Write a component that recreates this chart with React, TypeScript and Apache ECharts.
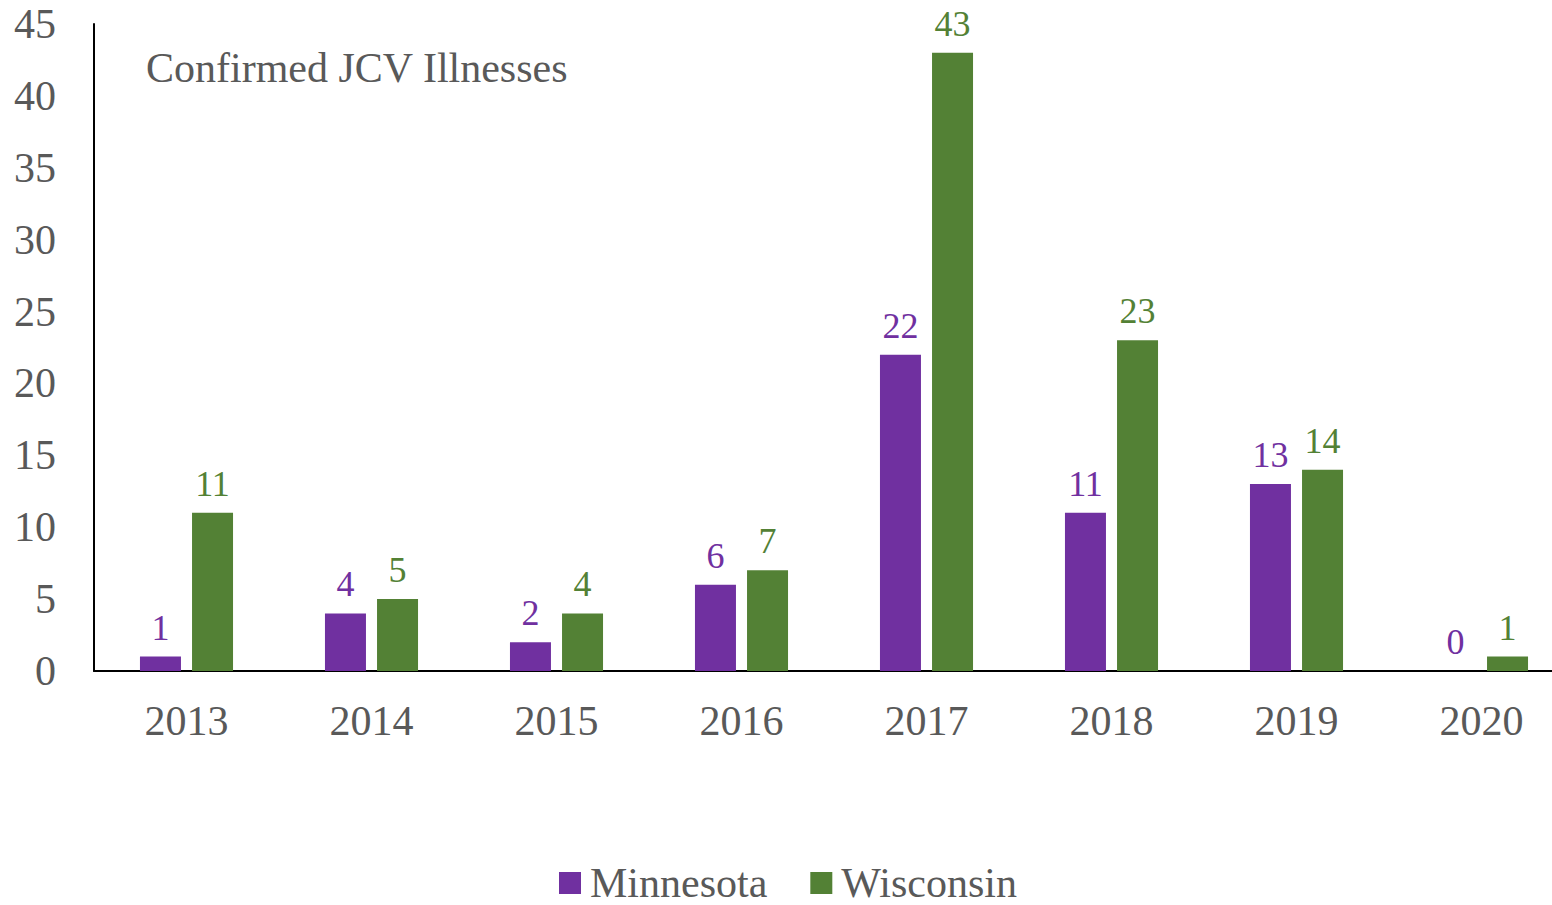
import React, { useEffect, useRef } from "react";
import * as echarts from "echarts";

const years = ["2013", "2014", "2015", "2016", "2017", "2018", "2019", "2020"];
const minnesota = [1, 4, 2, 6, 22, 11, 13, 0];
const wisconsin = [11, 5, 4, 7, 43, 23, 14, 1];
const titleText = "Confirmed JCV Illnesses";

const FONT = "'Liberation Serif', 'Times New Roman', serif";
const PURPLE = "#7030A0";
const GREEN = "#538135";
const GRAY = "#595959";

export default function App() {
  const ref = useRef<HTMLDivElement>(null);
  useEffect(() => {
    if (!ref.current) return;
    const chart = echarts.init(ref.current, null, { renderer: "svg" });
    chart.setOption({
      animation: false,
      textStyle: { fontFamily: FONT },
      title: {
        text: titleText,
        left: 146,
        top: 47,
        padding: 0,
        textStyle: { fontFamily: FONT, fontSize: 42, fontWeight: "normal", color: GRAY },
      },
      legend: {
        left: 559,
        top: 862,
        itemWidth: 22,
        itemHeight: 22,
        itemGap: 43,
        icon: "rect",
        padding: 0,
        textStyle: { fontFamily: FONT, fontSize: 42, lineHeight: 34, color: GRAY, padding: [0, 0, 0, 4] },
        data: ["Minnesota", "Wisconsin"],
      },
      grid: { left: 94, right: 0, top: 24, bottom: 234, containLabel: false },
      xAxis: {
        type: "category",
        data: years,
        axisTick: { show: false },
        axisLine: { lineStyle: { color: "#000", width: 2 } },
        axisLabel: { fontFamily: FONT, fontSize: 42, color: GRAY, margin: 29 },
      },
      yAxis: {
        type: "value",
        min: 0,
        max: 45,
        interval: 5,
        splitLine: { show: false },
        axisTick: { show: false },
        axisLine: { show: true, lineStyle: { color: "#000", width: 2 } },
        axisLabel: { fontFamily: FONT, fontSize: 42, color: GRAY, margin: 38 },
      },
      series: [
        {
          name: "Minnesota",
          type: "bar",
          data: minnesota,
          barWidth: 41,
          barGap: "27%",
          itemStyle: { color: PURPLE },
          label: { show: true, position: "top", distance: 11, fontFamily: FONT, fontSize: 36, color: PURPLE },
        },
        {
          name: "Wisconsin",
          type: "bar",
          data: wisconsin,
          barWidth: 41,
          barGap: "27%",
          itemStyle: { color: GREEN },
          label: { show: true, position: "top", distance: 11, fontFamily: FONT, fontSize: 36, color: GREEN },
        },
      ],
    });
    return () => chart.dispose();
  }, []);
  return (
    <div style={{ position: "absolute", left: 0, top: 0, width: 1552, height: 905, overflow: "hidden", background: "#fff" }}>
      <div ref={ref} style={{ width: 1574, height: 905 }} />
    </div>
  );
}
